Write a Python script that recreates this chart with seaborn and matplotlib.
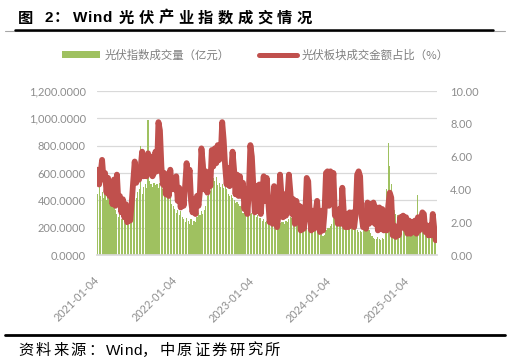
import numpy as np
import pandas as pd
import matplotlib
matplotlib.use("Agg")
import matplotlib.pyplot as plt
import matplotlib.dates as mdates
from matplotlib.lines import Line2D
from matplotlib.patches import Patch
import seaborn as sns

# ---------------- data ----------------
title = "图 2：Wind 光伏产业指数成交情况"
source = "资料来源：Wind，中原证券研究所"
vol_label = "光伏指数成交量（亿元）"
pct_label = "光伏板块成交金额占比（%）"
start_date = "2021-01-04"
xtick_labels = ["2021-01-04", "2022-01-04", "2023-01-04", "2024-01-04", "2025-01-04"]
left_ticks = [0, 200, 400, 600, 800, 1000, 1200]
right_ticks = [0, 2, 4, 6, 8, 10]

# weekly readings, 光伏指数成交量（亿元）
vol_2021 = [450, 500, 430, 460, 420, 450, 400, 440, 380, 400,
            360, 390, 330, 300, 280, 310, 260, 290, 250, 270,
            240, 220, 250, 330, 400, 430, 420, 460, 480, 800,
            450, 500, 520, 490, 990, 540, 520, 500, 530, 510,
            520, 490, 530, 500, 480, 500, 470, 490, 460, 420,
            370, 360]
vol_2022 = [340, 310, 330, 290, 320, 280, 260, 240, 270, 250,
            230, 260, 220, 250, 240, 280, 310, 290, 320, 300,
            330, 360, 430, 450, 470, 520, 560, 540, 570, 510,
            530, 500, 520, 490, 510, 480, 450, 430, 440, 420,
            400, 380, 390, 370, 360, 340, 310, 320, 300, 320,
            290, 300]
vol_2023 = [310, 290, 300, 280, 290, 270, 270, 250, 260, 240,
            250, 230, 240, 250, 230, 245, 240, 230, 250, 235,
            240, 240, 230, 250, 240, 260, 280, 270, 260, 250,
            270, 260, 230, 220, 210, 220, 230, 210, 210, 200,
            190, 200, 210, 190, 200, 170, 150, 160, 140, 150,
            180, 200]
vol_2024 = [200, 210, 230, 290, 280, 260, 250, 240, 245, 235,
            250, 240, 245, 230, 240, 230, 220, 200, 190, 180,
            170, 175, 165, 180, 190, 200, 190, 180, 160, 140,
            125, 120, 115, 130, 120, 110, 125, 115, 260, 480,
            820, 650, 520, 400, 330, 300, 290, 280, 260, 230,
            210, 200, 190]
vol_2025 = [190, 200, 180, 210, 220, 200, 250, 440, 260, 220,
            200, 210, 190, 230, 200, 210, 190, 300, 185, 190]

# weekly readings, 光伏板块成交金额占比（%）
pct_2021 = [5.2, 4.3, 5.0, 5.8, 4.6, 5.0, 3.8, 4.7, 3.6, 4.4,
            3.1, 4.6, 3.0, 4.9, 3.2, 3.6, 2.6, 3.4, 2.3, 3.1,
            2.0, 2.8, 2.1, 3.2, 4.5, 5.7, 4.4, 5.2, 4.6, 5.3,
            6.3, 4.8, 5.6, 4.8, 6.2, 5.0, 6.0, 4.8, 5.0, 6.3,
            5.1, 8.1, 7.6, 5.4, 4.3, 5.0, 3.7, 4.9, 3.6, 5.2,
            4.0, 4.6]
pct_2022 = [4.0, 4.8, 3.3, 4.1, 2.9, 3.8, 3.0, 4.2, 5.6, 4.4,
            5.2, 3.3, 2.6, 3.4, 2.5, 3.6, 3.0, 3.9, 6.5, 5.5,
            4.0, 5.1, 3.8, 5.0, 4.2, 6.4, 5.4, 6.5, 5.6, 6.7,
            5.8, 6.0, 8.1, 7.0, 5.4, 4.3, 5.3, 4.2, 5.0, 6.3,
            5.2, 3.7, 4.9, 3.6, 4.8, 3.6, 4.4, 2.8, 4.0, 2.5,
            3.9, 6.7]
pct_2023 = [6.0, 4.2, 2.6, 4.2, 2.7, 4.3, 2.5, 3.8, 4.8, 3.3,
            4.7, 3.4, 2.0, 3.0, 1.9, 4.2, 2.6, 1.7, 2.5, 4.9,
            3.6, 2.3, 3.7, 2.4, 3.5, 4.9, 3.8, 2.5, 3.4, 1.9,
            3.3, 2.0, 3.0, 1.5, 2.9, 1.6, 2.4, 4.7, 4.5, 2.6,
            1.5, 2.7, 1.6, 2.6, 3.3, 2.0, 1.4, 2.7, 1.5, 2.6,
            5.0, 5.1]
pct_2024 = [3.0, 5.1, 4.0, 5.0, 2.4, 2.7, 1.9, 2.8, 1.9, 4.1,
            2.6, 1.7, 2.5, 1.7, 2.6, 1.8, 2.6, 1.7, 2.5, 4.9,
            5.1, 4.8, 2.4, 1.7, 2.4, 1.6, 3.2, 1.9, 3.1, 2.0,
            3.2, 1.9, 2.9, 1.5, 2.9, 1.6, 2.8, 1.5, 2.1, 1.5,
            3.0, 3.8, 3.5, 1.2, 1.8, 1.1, 1.7, 1.2, 2.3, 1.7,
            2.4, 1.6, 2.3]
pct_2025 = [1.3, 2.1, 1.3, 2.0, 1.4, 2.1, 1.3, 2.3, 1.5, 2.2,
            2.6, 2.5, 1.4, 1.8, 1.2, 1.8, 1.2, 2.5, 1.6, 0.9]

vol = vol_2021 + vol_2022 + vol_2023 + vol_2024 + vol_2025
pct = pct_2021 + pct_2022 + pct_2023 + pct_2024 + pct_2025
dates_v = pd.date_range(start_date, periods=len(vol), freq="7D")
dates_p = pd.date_range(start_date, periods=len(pct), freq="7D")
xv = mdates.date2num(dates_v)
xp = mdates.date2num(dates_p)

# ---------------- style ----------------
GREEN = "#9fc160"
RED = "#c0504d"
TICK = "#8d8d8d"
GRID = "#d9d9d9"

sns.set_theme(style="white")
plt.rcParams["font.family"] = ["Lato", "Noto Sans CJK SC", "DejaVu Sans"]

W, H = 511, 362
fig = plt.figure(figsize=(W / 100, H / 100), dpi=100)
ax = fig.add_axes([97 / W, 1 - 255 / H, (437 - 97) / W, (255 - 91) / H])

sns.barplot(x=xv, y=vol, native_scale=True, ax=ax, color=GREEN, width=0.75,
            errorbar=None, saturation=1, linewidth=0)
ax2 = ax.twinx()
sns.lineplot(x=xp, y=pct, ax=ax2, color=RED, linewidth=4.2,
             solid_joinstyle="round", solid_capstyle="round")

ax.set_xlim(mdates.date2num(pd.Timestamp("2021-01-01")),
            mdates.date2num(pd.Timestamp("2025-05-25")))
ax.set_ylim(0, 1200)
ax2.set_ylim(0, 10)

ax.set_yticks(left_ticks)
ax.set_yticklabels([f"{v:,.4f}" for v in left_ticks])
ax2.set_yticks(right_ticks)
ax2.set_yticklabels([f"{v:.2f}" for v in right_ticks])
ax.set_xticks(mdates.date2num(pd.to_datetime(xtick_labels)))
ax.set_xticklabels(xtick_labels, rotation=45, ha="right", va="center",
                   rotation_mode="anchor")
for a in (ax, ax2):
    a.set_xlabel("")
    a.set_ylabel("")
    for s in a.spines.values():
        s.set_visible(False)
ax.spines["bottom"].set_visible(True)
ax.spines["bottom"].set_color(GRID)
ax.yaxis.grid(True, color=GRID, linewidth=0.9)
ax.xaxis.grid(False)
ax2.grid(False)
ax.set_axisbelow(True)
ax.tick_params(axis="x", length=3, width=0.8, color=GRID, pad=14,
               labelsize=7.8, labelcolor=TICK)
ax.tick_params(axis="y", length=0, pad=8, labelsize=8, labelcolor=TICK)
ax2.tick_params(axis="y", length=0, pad=9.5, labelsize=8, labelcolor=TICK)

# ---------------- legend ----------------
leg_kw = dict(frameon=False, loc="center left", borderpad=0, borderaxespad=0,
              handlelength=3.3, handleheight=0.45, handletextpad=0.45,
              prop={"family": ["Noto Sans CJK SC", "DejaVu Sans"], "size": 8.2},
              labelcolor="#7f7f7f")
fig.legend(handles=[Patch(color=GREEN, linewidth=0)], labels=[vol_label],
           bbox_to_anchor=(62 / W, 1 - 55 / H), **leg_kw)
fig.legend(handles=[Line2D([0], [0], color=RED, lw=3.6, solid_capstyle="round")],
           labels=[pct_label], bbox_to_anchor=(259 / W, 1 - 55 / H), **leg_kw)

# ---------------- title / source ----------------
renderer = fig.canvas.get_renderer()


def spaced_text(s, x_px, y_px, cjk_gap, latin_gap, space_px, **kw):
    x = x_px
    for ch in s:
        if ch == " ":
            x += space_px
            continue
        t = fig.text(x / W, 1 - y_px / H, ch, ha="left", va="baseline", **kw)
        bb = t.get_window_extent(renderer=renderer)
        x += bb.width + (latin_gap if ord(ch) < 128 else cjk_gap)


spaced_text(title, 18, 22.5, 4.5, 0.3, 7, fontsize=11, fontweight="bold",
            color="black", family=["Liberation Sans", "Noto Sans CJK SC"])
spaced_text(source, 18, 355, 2.3, 0.3, 4, fontsize=11, color="black",
            family=["Liberation Sans", "Noto Sans CJK SC"])

fig.add_artist(Line2D([5 / W, 505 / W], [1 - 31 / H] * 2, color="#a6a6a6", lw=0.8))
fig.add_artist(Line2D([15 / W, 493 / W], [1 - 29.5 / H] * 2, color="black", lw=1.8))
fig.add_artist(Line2D([5 / W, 505 / W], [1 - 334.7 / H] * 2, color="black", lw=2.0))

fig.savefig("out.png", dpi=100)
